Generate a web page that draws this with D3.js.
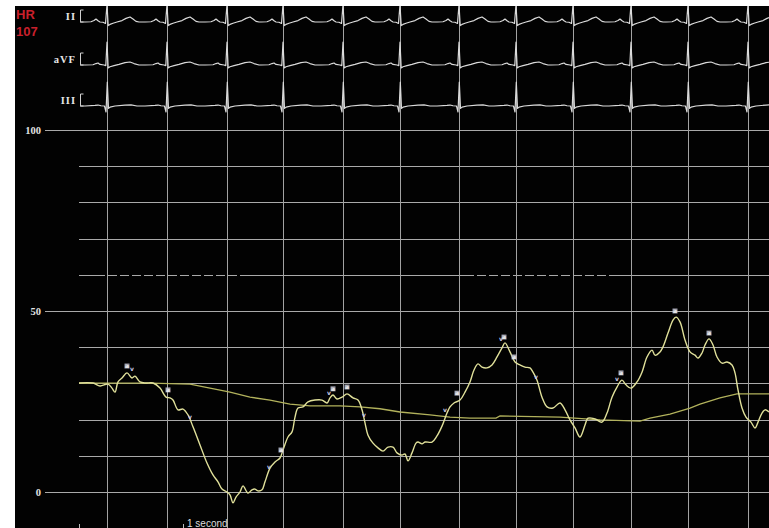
<!DOCTYPE html>
<html>
<head>
<meta charset="utf-8">
<script src="https://cdn.jsdelivr.net/npm/d3@7"></script>
<style>
  html, body { margin: 0; padding: 0; background: #fff; overflow: hidden; }
  svg { display: block; }
</style>
</head>
<body>
<svg id="chart" width="769" height="528"></svg>
<script>
// Heart rate readout
const heartRate = 107;

// R-wave times (s) – each one also gets a vertical marker line
const rPeakTimes = [0.28, 0.88, 1.48, 2.04, 2.64, 3.21, 3.80, 4.37, 4.94, 5.52, 6.09, 6.69];

// ECG leads shown in the top strip
const leadNames = ["II", "aVF", "III"];

// One beat per lead: [offset from R wave (s), amplitude (mV)]
const leadIIBeat = [
  [-0.22, 0], [-0.16, 0.02], [-0.13, 0.12], [-0.11, 0.25], [-0.09, 0.1], [-0.07, 0],
  [-0.04, -0.02], [-0.015, -0.12], [0, 1.45], [0.012, -0.3], [0.03, -0.2], [0.06, -0.1],
  [0.10, 0], [0.15, 0.12], [0.19, 0.3], [0.23, 0.42], [0.26, 0.25], [0.29, 0.05], [0.32, 0]
];
const leadAVFBeat = [
  [-0.22, 0], [-0.14, 0.02], [-0.11, 0.12], [-0.09, 0.17], [-0.07, 0.05], [-0.03, 0],
  [-0.012, -0.05], [0, 1.9], [0.012, -0.25], [0.03, -0.15], [0.07, -0.05], [0.12, 0.05],
  [0.18, 0.2], [0.23, 0.25], [0.27, 0.12], [0.32, 0]
];
const leadIIIBeat = [
  [-0.22, 0], [-0.12, 0.05], [-0.09, 0.08], [-0.06, 0.02], [-0.025, 0], [-0.01, -0.5],
  [0.003, 2.0], [0.015, -0.2], [0.03, -0.1], [0.08, 0], [0.18, 0.08], [0.24, 0.1], [0.3, 0], [0.32, 0]
];
const leadBeats = [leadIIBeat, leadAVFBeat, leadIIIBeat];

// Pressure tracing (mmHg) against time (s)
const pressureTime = [0,0.14,0.21,0.29,0.33,0.36,0.39,0.43,0.48,0.53,0.56,0.61,0.67,0.74,0.81,0.87,0.91,0.94,0.99,1.04,1.09,1.14,1.21,1.28,1.34,1.39,1.43,1.48,1.51,1.54,1.57,1.61,1.64,1.69,1.73,1.76,1.79,1.83,1.86,1.91,1.96,2.01,2.04,2.09,2.13,2.16,2.19,2.24,2.29,2.36,2.43,2.48,2.51,2.54,2.58,2.63,2.68,2.74,2.79,2.83,2.86,2.89,2.94,2.99,3.04,3.09,3.14,3.18,3.23,3.26,3.29,3.33,3.37,3.39,3.43,3.46,3.53,3.58,3.63,3.68,3.71,3.75,3.81,3.86,3.91,3.95,3.99,4.03,4.08,4.13,4.18,4.23,4.26,4.31,4.36,4.41,4.46,4.51,4.54,4.58,4.63,4.68,4.74,4.81,4.86,4.91,4.96,5.01,5.06,5.09,5.16,5.23,5.28,5.33,5.38,5.43,5.47,5.52,5.58,5.63,5.68,5.73,5.76,5.81,5.84,5.89,5.94,5.97,6.01,6.06,6.11,6.16,6.19,6.23,6.26,6.30,6.34,6.38,6.43,6.48,6.53,6.56,6.59,6.63,6.67,6.72,6.76,6.79,6.83,6.86,6.90];
const pressureMain = [30.1,30.1,29.3,29.8,28.7,27.6,30.4,31.5,32.9,31.5,32.0,30.4,30.1,30.1,28.7,26.2,26.0,25.4,22.7,22.9,21.3,18.0,13.0,8.0,4.7,2.8,0.8,0.0,-0.8,-3.0,-1.4,0.0,1.7,-0.3,0.6,0.8,0.3,0.6,2.8,6.6,8.3,9.4,11.6,15.2,16.6,20.7,23.2,23.5,24.9,25.4,25.4,24.6,26.0,26.8,25.7,26.2,27.1,26.0,25.4,22.7,19.1,15.7,13.5,12.2,11.3,12.4,12.4,10.8,10.2,10.5,8.6,10.8,13.5,13.8,13.3,13.8,13.8,15.5,18.2,21.8,23.5,24.6,25.4,27.6,30.4,33.7,35.4,34.5,34.3,35.1,37.3,39.8,41.2,38.7,35.9,35.1,34.5,34.3,33.1,30.9,26.2,23.5,23.2,24.6,22.7,19.9,17.7,15.2,18.5,20.4,20.2,19.3,21.8,26.2,29.0,30.9,29.6,28.7,30.4,33.1,37.3,39.2,37.8,38.7,40.1,43.9,47.5,48.3,47.0,42.0,38.7,37.8,37.0,38.4,40.6,42.3,40.6,37.3,35.6,35.9,35.1,32.9,28.2,23.2,20.7,19.3,17.7,19.3,21.8,22.7,22.1];

// Smoother second pressure curve
const pressureRefTime = [0,0.21,0.71,1.11,1.31,1.51,1.71,1.91,2.11,2.31,2.61,2.81,3.01,3.21,3.51,3.71,3.91,4.17,4.21,4.81,5.21,5.61,5.71,5.91,6.11,6.21,6.41,6.58,6.90];
const pressureRef = [30.1,30.1,30.1,29.8,28.7,27.6,26.2,25.4,24.3,23.8,23.8,23.5,23.0,22.1,21.3,20.7,20.4,20.4,21.0,20.7,19.9,19.6,20.4,21.5,23.2,24.3,26.0,27.1,27.1];

// a / v wave annotations
const waveMarkText  = ["a","v","a","v","v","a","v","a","a","v","v","a","v","a","a","v","v","a","a","a"];
const waveMarkTime  = [0.48,0.53,0.89,1.11,1.90,2.02,2.50,2.54,2.68,2.85,3.66,3.78,4.22,4.25,4.35,4.57,5.38,5.42,5.96,6.30];
const waveMarkValue = [34.8,34.0,28.2,20.7,6.9,11.6,27.3,28.5,29.0,21.3,22.7,27.3,42.3,42.8,37.3,31.8,31.2,32.9,50.0,43.9];

// Pressure gridlines and labelled ticks (mmHg)
const gridValues = [0, 10, 20, 30, 40, 50, 60, 70, 80, 90, 100];
const tickLabels = [0, 50, 100];

const svg = d3.select("#chart");
const W = 769, H = 528;
const panel = { left: 15, top: 6 };

const x = d3.scaleLinear().domain([0, 6.9]).range([79, 769]);
const y = d3.scaleLinear().domain([0, 100]).range([492, 130]);

const leadBaselines = [22, 65, 106];
const leadScales = leadBaselines.map(b => d3.scaleLinear().domain([0, 1]).range([b, b - 12]));

svg.append("defs").append("clipPath").attr("id", "panelClip")
  .append("rect").attr("x", panel.left).attr("y", panel.top)
  .attr("width", W - panel.left).attr("height", H - panel.top);

svg.append("rect").attr("x", panel.left).attr("y", panel.top)
  .attr("width", W - panel.left).attr("height", H - panel.top).attr("fill", "#020202");

const g = svg.append("g").attr("clip-path", "url(#panelClip)");

// Horizontal pressure grid
g.append("g").selectAll("line").data(gridValues).join("line")
  .attr("x1", d => tickLabels.includes(d) ? 45 : 79)
  .attr("x2", W)
  .attr("y1", d => Math.round(y(d)) + 0.5)
  .attr("y2", d => Math.round(y(d)) + 0.5)
  .attr("stroke", "#a9a9a9").attr("stroke-width", 1);

// Broken stretches of the 60 mmHg line
g.append("g").selectAll("line").data([[0.26, 1.66], [3.95, 5.36]]).join("line")
  .attr("x1", d => x(d[0])).attr("x2", d => x(d[1]))
  .attr("y1", Math.round(y(60)) + 0.5).attr("y2", Math.round(y(60)) + 0.5)
  .attr("stroke", "#020202").attr("stroke-width", 2).attr("stroke-dasharray", "3,9");

// R-wave marker lines
g.append("g").selectAll("line").data(rPeakTimes).join("line")
  .attr("x1", d => Math.round(x(d)) + 0.5).attr("x2", d => Math.round(x(d)) + 0.5)
  .attr("y1", panel.top).attr("y2", H)
  .attr("stroke", "#a2a2a2").attr("stroke-width", 1);

// Pressure axis labels
svg.append("g").selectAll("text").data(tickLabels).join("text")
  .attr("x", 41).attr("y", d => y(d)).attr("dy", "0.35em")
  .attr("text-anchor", "end")
  .attr("font-family", "'Liberation Serif', 'DejaVu Serif', serif")
  .attr("font-weight", "bold").attr("font-size", 10.5)
  .attr("fill", "#e4e4e4")
  .text(d => d);

// ECG strip
const ecgLine = d3.line().x(d => x(d[0])).y(d => d[1]);
leadBeats.forEach((beat, i) => {
  const sy = leadScales[i];
  const pts = [[0.01, sy(0)]];
  rPeakTimes.forEach(r => beat.forEach(p => pts.push([r + p[0], sy(p[1])])));
  pts.push([6.95, sy(0)]);
  g.append("path").datum(pts)
    .attr("d", ecgLine)
    .attr("fill", "none").attr("stroke", "#dadada").attr("stroke-width", 1.2)
    .attr("stroke-linejoin", "round");

  // calibration bracket
  const bx = 80.5;
  g.append("path")
    .attr("d", `M${bx + 3},${sy(1)} H${bx} V${sy(0)} H${bx + 3}`)
    .attr("fill", "none").attr("stroke", "#cfcfcf").attr("stroke-width", 1);

  svg.append("text")
    .attr("x", 76).attr("y", sy(0.5)).attr("dy", "0.35em")
    .attr("text-anchor", "end")
    .attr("font-family", "'Liberation Serif', 'DejaVu Serif', serif")
    .attr("font-weight", "bold").attr("font-size", 10.5)
    .attr("letter-spacing", 1)
    .attr("fill", "#e6e6e6")
    .text(leadNames[i]);
});

// Pressure curves
const pLine = d3.line().x(d => x(d[0])).y(d => y(d[1]));
g.append("path").datum(pressureRefTime.map((t, i) => [t, pressureRef[i]]))
  .attr("d", pLine).attr("fill", "none")
  .attr("stroke", "#b2b25c").attr("stroke-width", 1.3);
g.append("path").datum(pressureTime.map((t, i) => [t, pressureMain[i]]))
  .attr("d", pLine.curve(d3.curveCatmullRom.alpha(0.5))).attr("fill", "none")
  .attr("stroke", "#e0e09a").attr("stroke-width", 1.4).attr("stroke-linejoin", "round");

// a / v annotations
const marks = g.append("g").selectAll("g")
  .data(waveMarkText.map((s, i) => ({ s, t: waveMarkTime[i], v: waveMarkValue[i] })))
  .join("g").attr("transform", d => `translate(${x(d.t)},${y(d.v)})`);
marks.filter(d => d.s === "a").append("rect")
  .attr("x", -2.5).attr("y", -2.5).attr("width", 5).attr("height", 5)
  .attr("fill", "#b4b4c4").attr("opacity", 0.85);
marks.append("text")
  .attr("text-anchor", "middle").attr("dy", "0.32em")
  .attr("font-family", "'DejaVu Sans', sans-serif").attr("font-size", 6).attr("font-weight", "bold")
  .attr("fill", d => d.s === "a" ? "#f2f2f2" : "#c8c8e6")
  .text(d => d.s);

// Heart rate readout
const hr = svg.append("g")
  .attr("font-family", "'Liberation Sans', Arial, sans-serif")
  .attr("font-weight", "bold").attr("font-size", 13).attr("fill", "#c9202c");
hr.append("text").attr("x", 16).attr("y", 19).text("HR");
hr.append("text").attr("x", 16).attr("y", 36).text(heartRate);

// Time scale caption
svg.append("text")
  .attr("x", 187).attr("y", 527)
  .attr("font-family", "'Liberation Sans', Arial, sans-serif")
  .attr("font-size", 10).attr("fill", "#dcdcdc")
  .text("1 second");
svg.append("g").selectAll("line").data([0, 1.04]).join("line")
  .attr("x1", d => x(d) + 0.5).attr("x2", d => x(d) + 0.5)
  .attr("y1", 524).attr("y2", 528)
  .attr("stroke", "#bbbbbb").attr("stroke-width", 1);
</script>
</body>
</html>
